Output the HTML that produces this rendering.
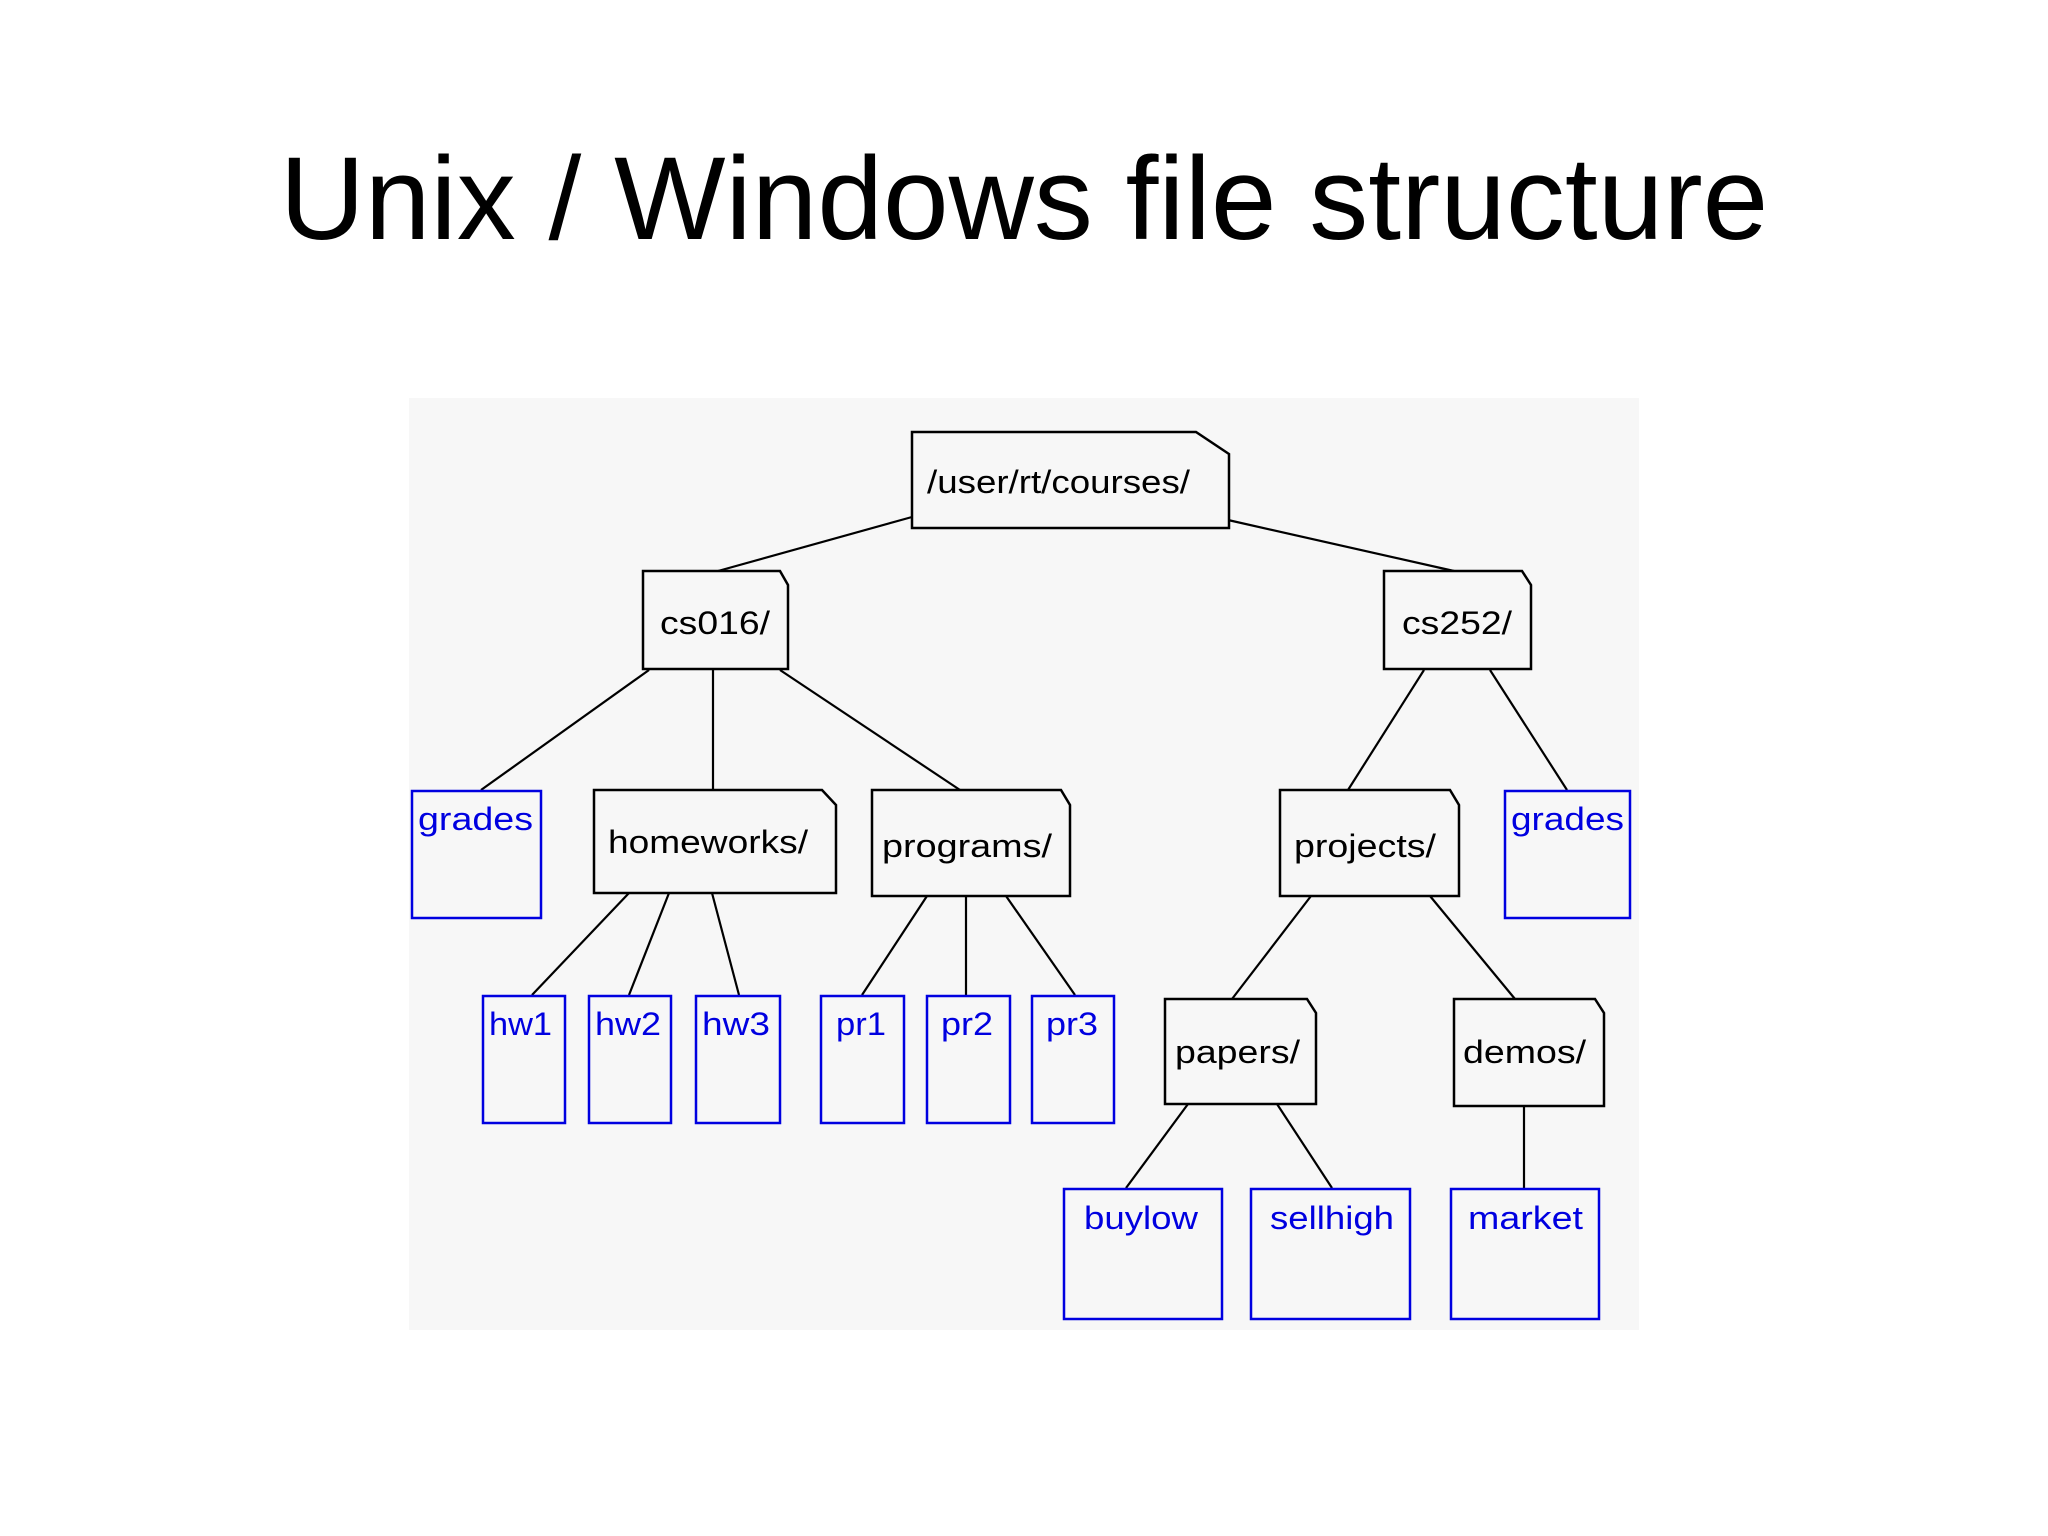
<!DOCTYPE html>
<html><head><meta charset="utf-8"><style>
html,body{margin:0;padding:0;background:#fff;width:2048px;height:1536px;overflow:hidden}
h1{position:absolute;left:0;width:2048px;top:131px;margin:0;text-align:center;font:400 118px "Liberation Sans",sans-serif;color:#000}
svg{position:absolute;left:0;top:0}
</style></head><body>
<h1>Unix / Windows file structure</h1>
<svg width="2048" height="1536" font-family="Liberation Sans, sans-serif" font-size="32">
<rect x="409" y="398" width="1230" height="932" fill="#f7f7f7"/>
<g stroke="#000" stroke-width="2.2" fill="none">
<line x1="912" y1="517" x2="718" y2="571"/>
<line x1="1228" y1="520" x2="1454" y2="571"/>
<line x1="649" y1="670" x2="481" y2="790"/>
<line x1="713" y1="670" x2="713" y2="790"/>
<line x1="780" y1="670" x2="960" y2="790"/>
<line x1="1424" y1="670" x2="1348" y2="790"/>
<line x1="1490" y1="670" x2="1567" y2="790"/>
<line x1="629" y1="893" x2="532" y2="995"/>
<line x1="669" y1="893" x2="629" y2="995"/>
<line x1="712" y1="893" x2="739" y2="995"/>
<line x1="927" y1="896" x2="862" y2="995"/>
<line x1="966" y1="896" x2="966" y2="995"/>
<line x1="1006" y1="896" x2="1075" y2="995"/>
<line x1="1311" y1="896" x2="1232" y2="999"/>
<line x1="1430" y1="896" x2="1515" y2="999"/>
<line x1="1188" y1="1104" x2="1126" y2="1188"/>
<line x1="1277" y1="1104" x2="1332" y2="1188"/>
<line x1="1524" y1="1106" x2="1524" y2="1188"/>
</g>
<g stroke="#000" stroke-width="2.5" fill="#f7f7f7">
<path d="M912 432H1196L1229 454V528H912Z"/>
<path d="M643 571H780L788 585V669H643Z"/>
<path d="M1384 571H1522L1531 585V669H1384Z"/>
<path d="M594 790H822L836 805V893H594Z"/>
<path d="M872 790H1061L1070 805V896H872Z"/>
<path d="M1280 790H1450L1459 805V896H1280Z"/>
<path d="M1165 999H1307L1316 1013V1104H1165Z"/>
<path d="M1454 999H1595L1604 1013V1106H1454Z"/>
</g>
<g stroke="#0000e0" stroke-width="2.5" fill="#f7f7f7">
<rect x="412" y="791" width="129" height="127"/>
<rect x="1505" y="791" width="125" height="127"/>
<rect x="483" y="996" width="82" height="127"/>
<rect x="589" y="996" width="82" height="127"/>
<rect x="696" y="996" width="84" height="127"/>
<rect x="821" y="996" width="83" height="127"/>
<rect x="927" y="996" width="83" height="127"/>
<rect x="1032" y="996" width="82" height="127"/>
<rect x="1064" y="1189" width="158" height="130"/>
<rect x="1251" y="1189" width="159" height="130"/>
<rect x="1451" y="1189" width="148" height="130"/>
</g>
<g fill="#000">
<text x="927" y="493" textLength="263" lengthAdjust="spacingAndGlyphs">/user/rt/courses/</text>
<text x="660" y="634" textLength="110" lengthAdjust="spacingAndGlyphs">cs016/</text>
<text x="1402" y="634" textLength="110" lengthAdjust="spacingAndGlyphs">cs252/</text>
<text x="608" y="853" textLength="200" lengthAdjust="spacingAndGlyphs">homeworks/</text>
<text x="882" y="857" textLength="170" lengthAdjust="spacingAndGlyphs">programs/</text>
<text x="1294" y="857" textLength="142" lengthAdjust="spacingAndGlyphs">projects/</text>
<text x="1175" y="1063" textLength="125" lengthAdjust="spacingAndGlyphs">papers/</text>
<text x="1463" y="1063" textLength="123" lengthAdjust="spacingAndGlyphs">demos/</text>
</g>
<g fill="#0000e0">
<text x="418" y="830" textLength="115" lengthAdjust="spacingAndGlyphs">grades</text>
<text x="1511" y="830" textLength="113" lengthAdjust="spacingAndGlyphs">grades</text>
<text x="489" y="1035" textLength="63" lengthAdjust="spacingAndGlyphs">hw1</text>
<text x="595" y="1035" textLength="66" lengthAdjust="spacingAndGlyphs">hw2</text>
<text x="702" y="1035" textLength="68" lengthAdjust="spacingAndGlyphs">hw3</text>
<text x="836" y="1035" textLength="50" lengthAdjust="spacingAndGlyphs">pr1</text>
<text x="941" y="1035" textLength="52" lengthAdjust="spacingAndGlyphs">pr2</text>
<text x="1046" y="1035" textLength="52" lengthAdjust="spacingAndGlyphs">pr3</text>
<text x="1084" y="1229" textLength="114" lengthAdjust="spacingAndGlyphs">buylow</text>
<text x="1270" y="1229" textLength="124" lengthAdjust="spacingAndGlyphs">sellhigh</text>
<text x="1468" y="1229" textLength="115" lengthAdjust="spacingAndGlyphs">market</text>
</g>
</svg>
</body></html>
